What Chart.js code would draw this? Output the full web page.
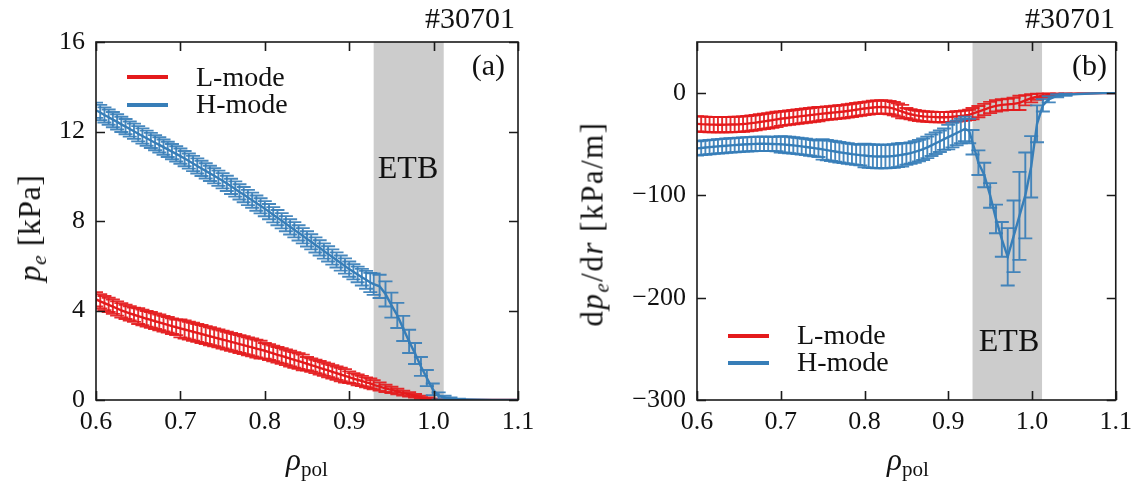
<!DOCTYPE html>
<html lang="en">
<head>
<meta charset="UTF-8">
<title>Electron pressure profiles, shot #30701</title>
<script src="https://cdn.jsdelivr.net/npm/chart.js"></script>
<style>
    body {
        margin: 0;
        background: #fff;
    }
    #wrap {
        position: relative;
        width: 1139px;
        height: 483px;
        font-family: "Liberation Serif", serif;
        color: #111;
    }
    canvas {
        position: absolute;
        top: 0;
    }
    #chartA { left: 0; }
    #chartB { left: 570px; }
    .txt {
        position: absolute;
        white-space: nowrap;
        line-height: 1;
    }
    .sub {
        font-size: 0.68em;
        position: relative;
        top: 0.28em;
    }
    .swatch {
        position: absolute;
        width: 41px;
        height: 4px;
    }
    .ytitle {
        transform: translate(-50%, -50%) rotate(-90deg);
    }
</style>
</head>
<body>
<div id="wrap">
    <canvas id="chartA" width="570" height="483"></canvas>
    <canvas id="chartB" width="569" height="483"></canvas>

    <!-- panel (a) texts -->
    <div class="txt" style="right:624px; top:3px; font-size:30px;">#30701</div>
    <div class="txt" style="right:634px; top:50px; font-size:30px;">(a)</div>
    <div class="txt" style="left:408px; top:151px; font-size:32px; transform:translateX(-50%);">ETB</div>
    <div class="swatch" style="left:127px; top:75px; background:#e41a1c;"></div>
    <div class="swatch" style="left:127px; top:103px; background:#377eb8;"></div>
    <div class="txt" style="left:196px; top:63px; font-size:28px;">L-mode</div>
    <div class="txt" style="left:196px; top:90px; font-size:28px;">H-mode</div>
    <div class="txt ytitle" style="left:29px; top:228px; font-size:32px; letter-spacing:0.5px;"><i>p</i><span class="sub"><i>e</i></span> [kPa]</div>
    <div class="txt" style="left:307px; top:444px; font-size:31px; transform:translateX(-50%);"><i>ρ</i><span class="sub">pol</span></div>

    <!-- panel (b) texts -->
    <div class="txt" style="right:24px; top:3px; font-size:30px;">#30701</div>
    <div class="txt" style="right:32px; top:50px; font-size:30px;">(b)</div>
    <div class="txt" style="left:1009px; top:324px; font-size:32px; transform:translateX(-50%);">ETB</div>
    <div class="swatch" style="left:728px; top:334px; background:#e41a1c;"></div>
    <div class="swatch" style="left:728px; top:361px; background:#377eb8;"></div>
    <div class="txt" style="left:797px; top:321px; font-size:28px;">L-mode</div>
    <div class="txt" style="left:797px; top:348px; font-size:28px;">H-mode</div>
    <div class="txt ytitle" style="left:592px; top:224px; font-size:31px; letter-spacing:1.5px;">d<i>p</i><span class="sub"><i>e</i></span>/d<i>r</i> [kPa/m]</div>
    <div class="txt" style="left:908px; top:444px; font-size:31px; transform:translateX(-50%);"><i>ρ</i><span class="sub">pol</span></div>
</div>

<script>
// normalised poloidal flux radius (shared by all four profiles)
const rho = [
    0.600, 0.605, 0.610, 0.615, 0.620, 0.625, 0.630, 0.635, 0.640, 0.645,
    0.650, 0.655, 0.660, 0.665, 0.670, 0.675, 0.680, 0.685, 0.690, 0.695,
    0.700, 0.705, 0.710, 0.715, 0.720, 0.725, 0.730, 0.735, 0.740, 0.745,
    0.750, 0.755, 0.760, 0.765, 0.770, 0.775, 0.780, 0.785, 0.790, 0.795,
    0.800, 0.805, 0.810, 0.815, 0.820, 0.825, 0.830, 0.835, 0.840, 0.845,
    0.850, 0.855, 0.860, 0.865, 0.870, 0.875, 0.880, 0.885, 0.890, 0.895,
    0.900, 0.905, 0.910, 0.915, 0.920, 0.925,
    0.929, 0.936, 0.943, 0.950, 0.957, 0.964, 0.971, 0.978, 0.985, 0.992, 0.999, 1.006, 1.013, 1.020,
    1.030, 1.040, 1.055, 1.070, 1.085, 1.100
];

// (a) electron pressure [kPa]
const peL = [
    4.50, 4.41, 4.33, 4.25, 4.17, 4.09, 4.01, 3.94, 3.87, 3.81,
    3.75, 3.69, 3.63, 3.58, 3.52, 3.47, 3.41, 3.36, 3.30, 3.25,
    3.20, 3.15, 3.10, 3.05, 3.00, 2.95, 2.90, 2.85, 2.80, 2.75,
    2.70, 2.65, 2.60, 2.55, 2.50, 2.45, 2.40, 2.35, 2.30, 2.25,
    2.20, 2.14, 2.08, 2.02, 1.97, 1.91, 1.85, 1.79, 1.74, 1.68,
    1.62, 1.56, 1.50, 1.44, 1.38, 1.32, 1.26, 1.20, 1.14, 1.08,
    1.02, 0.96, 0.90, 0.85, 0.79, 0.74,
    0.68, 0.60, 0.52, 0.45, 0.38, 0.31, 0.25, 0.19, 0.13, 0.07, 0.03, 0.01, 0, 0,
    0, 0, 0, 0, 0, 0
];
const peLErr = [
    0.32, 0.32, 0.32, 0.32, 0.32, 0.32, 0.32, 0.32, 0.32, 0.32,
    0.35, 0.35, 0.35, 0.35, 0.35, 0.35, 0.35, 0.35, 0.35, 0.35,
    0.40, 0.40, 0.40, 0.40, 0.40, 0.40, 0.40, 0.40, 0.40, 0.40,
    0.40, 0.40, 0.40, 0.40, 0.40, 0.40, 0.40, 0.40, 0.40, 0.40,
    0.35, 0.35, 0.35, 0.35, 0.35, 0.35, 0.35, 0.35, 0.35, 0.35,
    0.30, 0.30, 0.30, 0.30, 0.30, 0.30, 0.30, 0.30, 0.30, 0.30,
    0.26, 0.24, 0.24, 0.23, 0.22, 0.22,
    0.20, 0.18, 0.16, 0.14, 0.12, 0.11, 0.10, 0.08, 0.06, 0.04, 0.03, 0.02, 0, 0,
    0, 0, 0, 0, 0, 0
];
const peH = [
    12.95, 12.85, 12.74, 12.64, 12.53, 12.43, 12.32, 12.22, 12.11, 12.01,
    11.90, 11.80, 11.70, 11.60, 11.50, 11.40, 11.30, 11.20, 11.10, 11.00,
    10.90, 10.79, 10.68, 10.57, 10.46, 10.35, 10.24, 10.13, 10.02, 9.91,
    9.80, 9.68, 9.55, 9.43, 9.30, 9.18, 9.05, 8.93, 8.80, 8.68,
    8.55, 8.42, 8.28, 8.15, 8.01, 7.88, 7.74, 7.61, 7.47, 7.34,
    7.20, 7.07, 6.93, 6.80, 6.66, 6.53, 6.39, 6.26, 6.12, 5.99,
    5.85, 5.73, 5.61, 5.49, 5.37, 5.25,
    5.18, 5.08, 4.74, 4.24, 3.78, 3.20, 2.62, 2.08, 1.50, 0.98, 0.48, 0.18, 0.10, 0.06,
    0.03, 0.02, 0.01, 0, 0, 0
];
const peHErr = [
    0.34, 0.34, 0.34, 0.34, 0.34, 0.34, 0.34, 0.34, 0.34, 0.34,
    0.34, 0.34, 0.34, 0.34, 0.34, 0.34, 0.34, 0.34, 0.34, 0.34,
    0.34, 0.34, 0.34, 0.34, 0.34, 0.34, 0.34, 0.34, 0.34, 0.34,
    0.34, 0.34, 0.34, 0.34, 0.34, 0.34, 0.34, 0.34, 0.34, 0.34,
    0.34, 0.34, 0.34, 0.34, 0.34, 0.34, 0.34, 0.34, 0.34, 0.34,
    0.34, 0.34, 0.34, 0.34, 0.34, 0.34, 0.34, 0.34, 0.34, 0.34,
    0.34, 0.34, 0.35, 0.37, 0.40, 0.43,
    0.48, 0.52, 0.56, 0.56, 0.56, 0.56, 0.52, 0.47, 0.42, 0.36, 0.26, 0.16, 0.09, 0.05,
    0.03, 0, 0, 0, 0, 0
];

// (b) electron pressure gradient [kPa/m]
const dpeL = [
    -30.0, -30.3, -30.5, -30.7, -30.8, -30.9, -30.9, -30.8, -30.7, -30.6,
    -30.5, -30.2, -29.8, -29.3, -28.8, -28.2, -27.6, -27.0, -26.4, -25.7,
    -25.0, -24.5, -24.0, -23.5, -23.0, -22.5, -22.0, -21.5, -21.0, -20.5,
    -20.0, -19.6, -19.2, -18.8, -18.4, -18.0, -17.4, -16.8, -16.2, -15.6,
    -15.0, -14.5, -14.0, -13.7, -13.5, -13.7, -14.2, -15.2, -16.5, -18.0,
    -19.5, -20.6, -21.5, -22.2, -22.7, -23.0, -23.2, -23.4, -23.5, -23.5,
    -23.4, -23.1, -22.7, -22.3, -21.8, -21.2,
    -20.0, -18.0, -16.0, -14.0, -12.5, -11.5, -11.0, -10.5, -9.5, -7.0, -5.0, -3.5, -2.5, -1.8,
    -1.2, -0.8, -0.4, -0.2, 0, 0
];
const dpeLErr = [
    7.5, 7.5, 7.5, 7.5, 7.5, 7.5, 7.5, 7.5, 7.5, 7.5,
    7.5, 7.5, 7.5, 7.5, 7.5, 7.5, 7.5, 7.5, 7.5, 7.5,
    7, 7, 7, 7, 7, 7, 7, 7, 7, 7,
    6.5, 6.5, 6.5, 6.5, 6.5, 6.5, 6.5, 6.5, 6.5, 6.5,
    6.5, 6.5, 6.5, 6.5, 6.5, 6.5, 6.5, 6.5, 6.5, 6.5,
    5, 5, 5, 5, 5, 5, 5, 5, 5, 5,
    5, 5, 5, 5, 5, 5,
    5.5, 5.5, 5.5, 5.5, 5.5, 5.5, 5.5, 6, 7, 5, 4, 3, 2, 1.5,
    1, 0.5, 0, 0, 0, 0
];
const dpeH = [
    -54.0, -53.6, -53.2, -52.8, -52.4, -52.0, -51.7, -51.4, -51.1, -50.8,
    -50.5, -50.2, -50.0, -49.8, -49.6, -49.5, -49.5, -49.6, -49.7, -49.8,
    -50.0, -50.3, -50.7, -51.1, -51.6, -52.1, -52.6, -53.2, -53.8, -54.4,
    -55.0, -55.7, -56.4, -57.1, -57.8, -58.4, -59.0, -59.6, -60.1, -60.6,
    -61.0, -61.4, -61.7, -61.9, -62.0, -62.0, -61.8, -61.4, -60.8, -60.2,
    -59.5, -58.6, -57.5, -56.2, -54.8, -53.0, -51.0, -49.0, -47.0, -45.0,
    -43.0, -41.0, -39.0, -37.0, -35.0, -37.0,
    -48, -68, -80, -100, -123, -143, -160, -140, -120, -100, -72, -30, -12, -6,
    -2.5, -1.5, -0.8, -0.3, 0, 0
];
const dpeHErr = [
    7, 7, 7, 7, 7, 7, 7, 7, 7, 7,
    7, 7, 7, 7, 7, 7, 7, 7, 7, 7,
    8, 8, 8, 8, 8, 8, 8, 8, 8, 8,
    10, 10, 10, 10, 10, 10, 10, 10, 10, 10,
    11.5, 11.5, 11.5, 11.5, 11.5, 11.5, 11.5, 11.5, 11.5, 11.5,
    10.5, 10.5, 10.5, 10.5, 10.5, 10.5, 10.5, 10.5, 10.5, 10.5,
    12, 12, 12, 12, 12, 12,
    12, 12, 12, 12, 14, 17, 28, 35, 43, 42, 30, 18, 6, 3,
    1.5, 1, 0, 0, 0, 0
];

// axes
const rhoTicks = [0.6, 0.7, 0.8, 0.9, 1.0, 1.1];
const peTicks = [0, 4, 8, 12, 16];
const dpeTicks = [-300, -200, -100, 0];
const etbBand = [0.929, 1.012];   // edge transport barrier, shaded

const RED = '#e41a1c';
const BLUE = '#377eb8';
const tickFont = { family: "'Liberation Serif', serif", size: 26 };

function points(ys) {
    return rho.map((x, i) => ({ x: x, y: ys[i] }));
}

// vertical error bars with caps, drawn just under each dataset's line
const errorBars = {
    id: 'errorBars',
    beforeDatasetDraw(chart, args) {
        const ds = chart.data.datasets[args.index];
        if (!ds.errors) return;
        const xs = chart.scales.x, ys = chart.scales.y, ctx = chart.ctx, a = chart.chartArea;
        ctx.save();
        ctx.beginPath();
        ctx.rect(a.left, a.top, a.right - a.left, a.bottom - a.top);
        ctx.clip();
        ctx.strokeStyle = ds.errorColor;
        ctx.lineWidth = 1.9;
        ds.data.forEach((p, i) => {
            const e = ds.errors[i];
            if (!e) return;
            const px = xs.getPixelForValue(p.x);
            const y1 = ys.getPixelForValue(p.y - e);
            const y2 = ys.getPixelForValue(p.y + e);
            ctx.beginPath();
            ctx.moveTo(px, y1); ctx.lineTo(px, y2);
            ctx.moveTo(px - 7, y1); ctx.lineTo(px + 7, y1);
            ctx.moveTo(px - 7, y2); ctx.lineTo(px + 7, y2);
            ctx.stroke();
        });
        ctx.restore();
    }
};

// grey ETB band behind the data
const band = {
    id: 'band',
    beforeDatasetsDraw(chart) {
        const a = chart.chartArea, xs = chart.scales.x, ctx = chart.ctx;
        const x0 = xs.getPixelForValue(etbBand[0]);
        const x1 = xs.getPixelForValue(etbBand[1]);
        ctx.save();
        ctx.fillStyle = '#cccccc';
        ctx.fillRect(x0, a.top, x1 - x0, a.bottom - a.top);
        ctx.restore();
    }
};

// box frame with inward ticks on all four sides
const frame = {
    id: 'frame',
    afterDatasetsDraw(chart) {
        const a = chart.chartArea, ctx = chart.ctx;
        const xs = chart.scales.x, ys = chart.scales.y;
        const len = 9;
        ctx.save();
        ctx.strokeStyle = '#1a1a1a';
        ctx.lineWidth = 1.6;
        ctx.strokeRect(a.left, a.top, a.right - a.left, a.bottom - a.top);
        ctx.beginPath();
        xs.ticks.forEach(t => {
            const px = Math.round(xs.getPixelForValue(t.value)) + 0.5;
            ctx.moveTo(px, a.bottom); ctx.lineTo(px, a.bottom - len);
            ctx.moveTo(px, a.top); ctx.lineTo(px, a.top + len);
        });
        ys.ticks.forEach(t => {
            const py = Math.round(ys.getPixelForValue(t.value)) + 0.5;
            ctx.moveTo(a.left, py); ctx.lineTo(a.left + len, py);
            ctx.moveTo(a.right, py); ctx.lineTo(a.right - len, py);
        });
        ctx.stroke();
        ctx.restore();
    }
};

function makePanel(id, cfg) {
    return new Chart(document.getElementById(id), {
        type: 'line',
        data: {
            datasets: [
                {
                    label: 'H-mode',
                    data: points(cfg.h),
                    errors: cfg.hErr,
                    errorColor: 'rgba(55, 126, 184, 0.92)',
                    borderColor: BLUE,
                    borderWidth: 2.4,
                    pointRadius: 0,
                    tension: 0
                },
                {
                    label: 'L-mode',
                    data: points(cfg.l),
                    errors: cfg.lErr,
                    errorColor: 'rgba(228, 26, 28, 0.92)',
                    borderColor: RED,
                    borderWidth: 2.4,
                    pointRadius: 0,
                    tension: 0
                }
            ]
        },
        options: {
            responsive: false,
            animation: false,
            layout: { padding: { left: 0, top: 42, right: cfg.padRight, bottom: 0 } },
            plugins: {
                legend: { display: false },
                tooltip: { enabled: false }
            },
            scales: {
                x: {
                    type: 'linear',
                    min: 0.6,
                    max: 1.1,
                    afterBuildTicks: s => { s.ticks = rhoTicks.map(v => ({ value: v })); },
                    afterFit: s => { s.height = 83; },
                    grid: { display: false, drawTicks: false },
                    border: { display: false },
                    ticks: {
                        font: tickFont,
                        color: '#111',
                        padding: 7,
                        maxRotation: 0,
                        autoSkip: false,
                        callback: v => v.toFixed(1)
                    }
                },
                y: {
                    min: cfg.yMin,
                    max: cfg.yMax,
                    afterBuildTicks: s => { s.ticks = cfg.yTicks.map(v => ({ value: v })); },
                    afterFit: s => { s.width = cfg.yWidth; },
                    grid: { display: false, drawTicks: false },
                    border: { display: false },
                    ticks: {
                        font: tickFont,
                        color: '#111',
                        padding: 11,
                        autoSkip: false,
                        callback: v => String(v).replace('-', '\u2212')
                    }
                }
            }
        },
        plugins: [band, errorBars, frame]
    });
}

makePanel('chartA', {
    l: peL, lErr: peLErr, h: peH, hErr: peHErr,
    yMin: 0, yMax: 16, yTicks: peTicks, yWidth: 96, padRight: 52
});

makePanel('chartB', {
    l: dpeL, lErr: dpeLErr, h: dpeH, hErr: dpeHErr,
    yMin: -300, yMax: 50, yTicks: dpeTicks, yWidth: 127, padRight: 20
});
</script>
</body>
</html>
